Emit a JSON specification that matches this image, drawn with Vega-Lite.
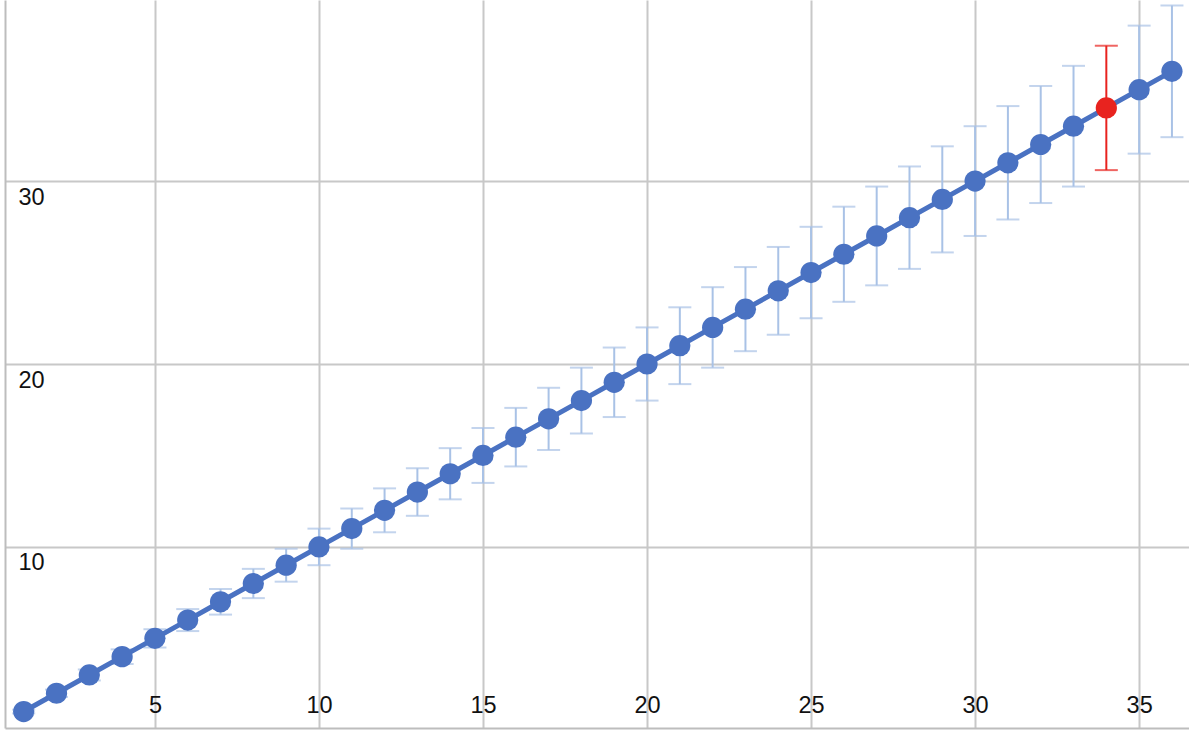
{
  "$schema": "https://vega.github.io/schema/vega-lite/v6.json",
  "width": 1184,
  "height": 728,
  "autosize": {"type": "none"},
  "padding": {"left": 5, "top": 0, "right": 0, "bottom": 5},
  "background": "white",
  "config": {
    "view": {"stroke": null},
    "font": "Liberation Sans"
  },
  "data": {
    "values": [
      {"x": 1, "y": 1, "lo": 0.9, "hi": 1.1, "hl": "n"},
      {"x": 2, "y": 2, "lo": 1.8, "hi": 2.2, "hl": "n"},
      {"x": 3, "y": 3, "lo": 2.7, "hi": 3.3, "hl": "n"},
      {"x": 4, "y": 4, "lo": 3.6, "hi": 4.4, "hl": "n"},
      {"x": 5, "y": 5, "lo": 4.5, "hi": 5.5, "hl": "n"},
      {"x": 6, "y": 6, "lo": 5.4, "hi": 6.6, "hl": "n"},
      {"x": 7, "y": 7, "lo": 6.3, "hi": 7.7, "hl": "n"},
      {"x": 8, "y": 8, "lo": 7.2, "hi": 8.8, "hl": "n"},
      {"x": 9, "y": 9, "lo": 8.1, "hi": 9.9, "hl": "n"},
      {"x": 10, "y": 10, "lo": 9.0, "hi": 11.0, "hl": "n"},
      {"x": 11, "y": 11, "lo": 9.9, "hi": 12.1, "hl": "n"},
      {"x": 12, "y": 12, "lo": 10.8, "hi": 13.2, "hl": "n"},
      {"x": 13, "y": 13, "lo": 11.7, "hi": 14.3, "hl": "n"},
      {"x": 14, "y": 14, "lo": 12.6, "hi": 15.4, "hl": "n"},
      {"x": 15, "y": 15, "lo": 13.5, "hi": 16.5, "hl": "n"},
      {"x": 16, "y": 16, "lo": 14.4, "hi": 17.6, "hl": "n"},
      {"x": 17, "y": 17, "lo": 15.3, "hi": 18.7, "hl": "n"},
      {"x": 18, "y": 18, "lo": 16.2, "hi": 19.8, "hl": "n"},
      {"x": 19, "y": 19, "lo": 17.1, "hi": 20.9, "hl": "n"},
      {"x": 20, "y": 20, "lo": 18.0, "hi": 22.0, "hl": "n"},
      {"x": 21, "y": 21, "lo": 18.9, "hi": 23.1, "hl": "n"},
      {"x": 22, "y": 22, "lo": 19.8, "hi": 24.2, "hl": "n"},
      {"x": 23, "y": 23, "lo": 20.7, "hi": 25.3, "hl": "n"},
      {"x": 24, "y": 24, "lo": 21.6, "hi": 26.4, "hl": "n"},
      {"x": 25, "y": 25, "lo": 22.5, "hi": 27.5, "hl": "n"},
      {"x": 26, "y": 26, "lo": 23.4, "hi": 28.6, "hl": "n"},
      {"x": 27, "y": 27, "lo": 24.3, "hi": 29.7, "hl": "n"},
      {"x": 28, "y": 28, "lo": 25.2, "hi": 30.8, "hl": "n"},
      {"x": 29, "y": 29, "lo": 26.1, "hi": 31.9, "hl": "n"},
      {"x": 30, "y": 30, "lo": 27.0, "hi": 33.0, "hl": "n"},
      {"x": 31, "y": 31, "lo": 27.9, "hi": 34.1, "hl": "n"},
      {"x": 32, "y": 32, "lo": 28.8, "hi": 35.2, "hl": "n"},
      {"x": 33, "y": 33, "lo": 29.7, "hi": 36.3, "hl": "n"},
      {"x": 34, "y": 34, "lo": 30.6, "hi": 37.4, "hl": "y"},
      {"x": 35, "y": 35, "lo": 31.5, "hi": 38.5, "hl": "n"},
      {"x": 36, "y": 36, "lo": 32.4, "hi": 39.6, "hl": "n"}
    ]
  },
  "layer": [
    {
      "mark": {"type": "rule", "strokeWidth": 2},
      "encoding": {
        "x": {
          "field": "x", "type": "quantitative",
          "scale": {"domain": [0.43, 36.52], "nice": false, "zero": false},
          "axis": {
            "title": null, "values": [5, 10, 15, 20, 25, 30, 35], "format": "d",
            "grid": true, "gridColor": "#c8c8c8", "gridWidth": 2,
            "ticks": false, "domain": true, "domainColor": "#bdbdbd", "domainWidth": 2,
            "labelFontSize": 23.5, "labelColor": "#111111", "labelPadding": -23,
            "labelBaseline": "middle", "labelAlign": "center"
          }
        },
        "y": {
          "field": "lo", "type": "quantitative",
          "scale": {"domain": [0.1, 39.9], "nice": false, "zero": false},
          "axis": {
            "title": null, "values": [10, 20, 30], "format": "d",
            "grid": true, "gridColor": "#c8c8c8", "gridWidth": 2,
            "ticks": false, "domain": true, "domainColor": "#bdbdbd", "domainWidth": 2,
            "labelFontSize": 23.5, "labelColor": "#111111", "labelPadding": -13,
            "labelAlign": "left", "labelBaseline": "middle", "labelOffset": 16
          }
        },
        "y2": {"field": "hi"},
        "color": {
          "field": "hl", "type": "nominal", "legend": null,
          "scale": {"domain": ["n", "y"], "range": ["#a9c2e6", "#e8231f"]}
        }
      }
    },
    {
      "mark": {"type": "tick", "orient": "horizontal", "size": 23, "thickness": 2},
      "encoding": {
        "x": {"field": "x", "type": "quantitative"},
        "y": {"field": "lo", "type": "quantitative"},
        "color": {
          "field": "hl", "type": "nominal", "legend": null,
          "scale": {"domain": ["n", "y"], "range": ["#a9c2e6", "#e8231f"]}
        }
      }
    },
    {
      "mark": {"type": "tick", "orient": "horizontal", "size": 23, "thickness": 2},
      "encoding": {
        "x": {"field": "x", "type": "quantitative"},
        "y": {"field": "hi", "type": "quantitative"},
        "color": {
          "field": "hl", "type": "nominal", "legend": null,
          "scale": {"domain": ["n", "y"], "range": ["#a9c2e6", "#e8231f"]}
        }
      }
    },
    {
      "mark": {"type": "line", "color": "#4a72c2", "strokeWidth": 5},
      "encoding": {
        "x": {"field": "x", "type": "quantitative"},
        "y": {"field": "y", "type": "quantitative"}
      }
    },
    {
      "mark": {"type": "point", "filled": true, "opacity": 1, "size": 450, "shape": "circle"},
      "encoding": {
        "x": {"field": "x", "type": "quantitative"},
        "y": {"field": "y", "type": "quantitative"},
        "color": {
          "field": "hl", "type": "nominal", "legend": null,
          "scale": {"domain": ["n", "y"], "range": ["#4a72c2", "#e8231f"]}
        }
      }
    }
  ],
  "resolve": {"scale": {"color": "independent"}}
}
